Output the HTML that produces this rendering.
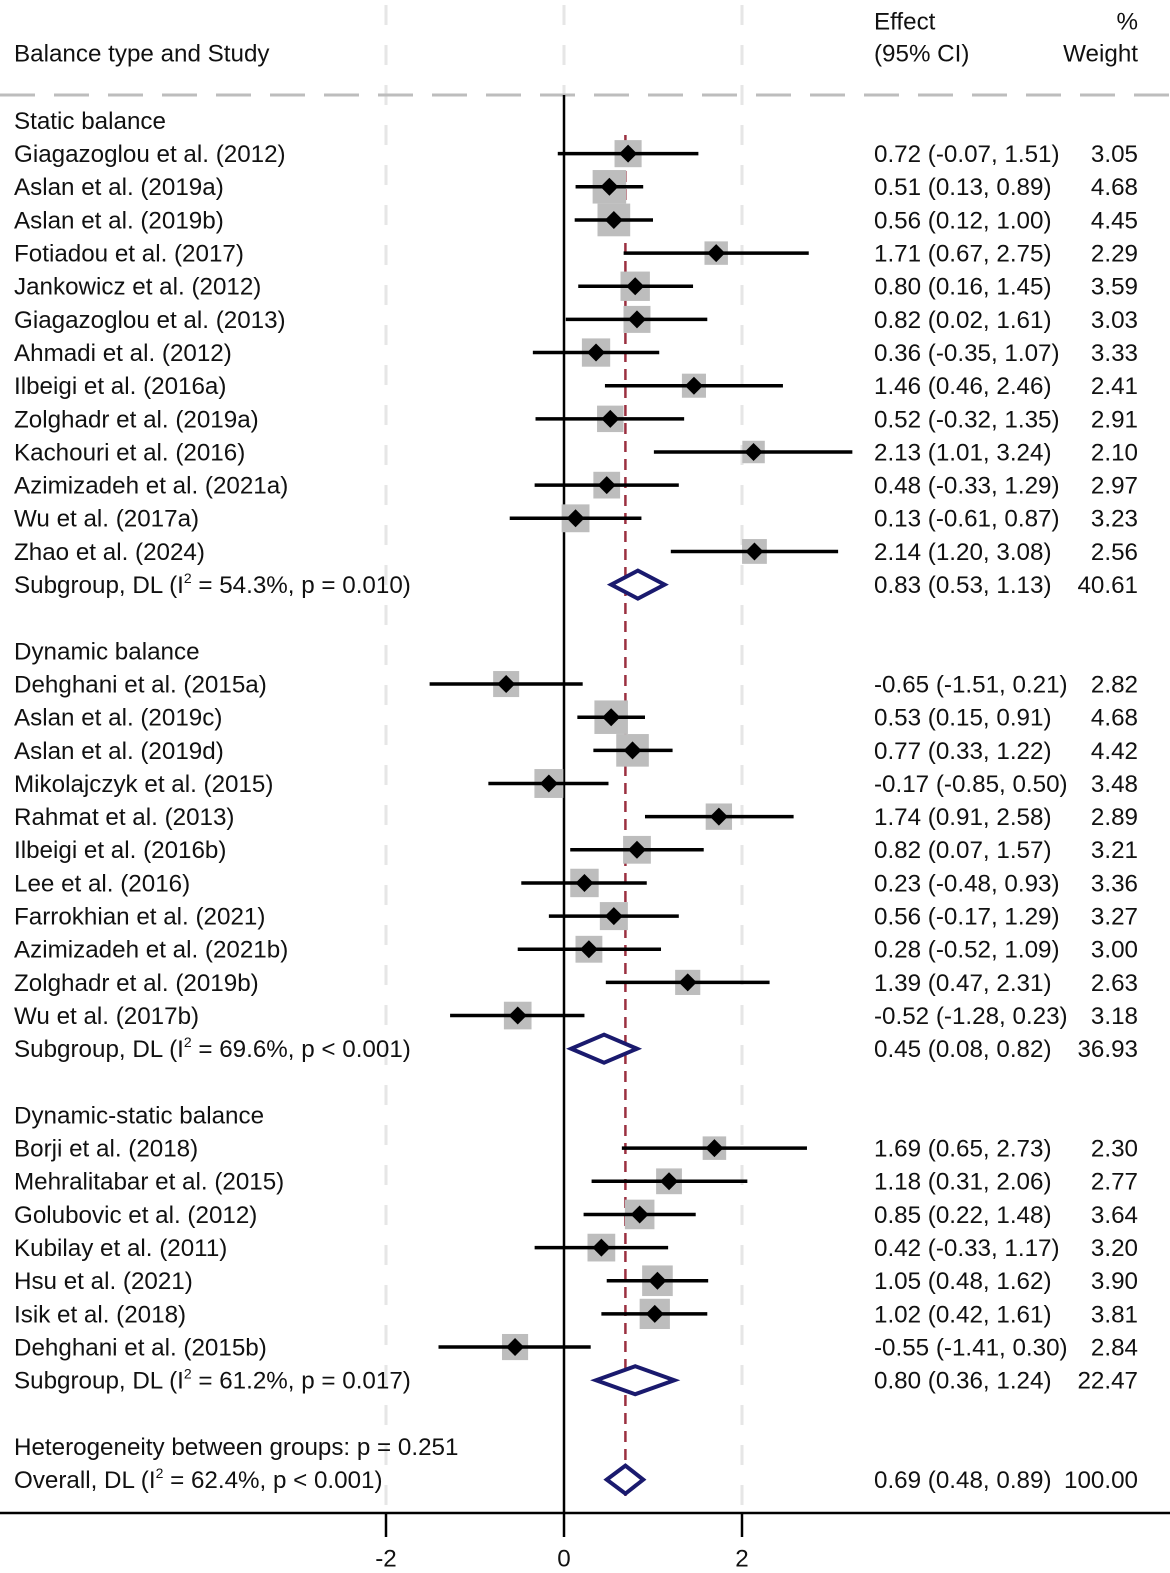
<!DOCTYPE html>
<html><head><meta charset="utf-8"><style>
html,body{margin:0;padding:0;background:#fff}
svg{display:block}
text{font-family:"Liberation Sans",Arial,sans-serif;font-size:24.2px;fill:#111}
</style></head><body>
<svg id="plot" width="1170" height="1573" viewBox="0 0 1170 1573" xmlns="http://www.w3.org/2000/svg"></svg>
<script>
const studies = ["Giagazoglou et al. (2012)","Aslan et al. (2019a)","Aslan et al. (2019b)","Fotiadou et al. (2017)","Jankowicz et al. (2012)","Giagazoglou et al. (2013)","Ahmadi et al. (2012)","Ilbeigi et al. (2016a)","Zolghadr et al. (2019a)","Kachouri et al. (2016)","Azimizadeh et al. (2021a)","Wu et al. (2017a)","Zhao et al. (2024)",
"Dehghani et al. (2015a)","Aslan et al. (2019c)","Aslan et al. (2019d)","Mikolajczyk et al. (2015)","Rahmat et al. (2013)","Ilbeigi et al. (2016b)","Lee et al. (2016)","Farrokhian et al. (2021)","Azimizadeh et al. (2021b)","Zolghadr et al. (2019b)","Wu et al. (2017b)",
"Borji et al. (2018)","Mehralitabar et al. (2015)","Golubovic et al. (2012)","Kubilay et al. (2011)","Hsu et al. (2021)","Isik et al. (2018)","Dehghani et al. (2015b)"];
const est = [0.72,0.51,0.56,1.71,0.80,0.82,0.36,1.46,0.52,2.13,0.48,0.13,2.14, -0.65,0.53,0.77,-0.17,1.74,0.82,0.23,0.56,0.28,1.39,-0.52, 1.69,1.18,0.85,0.42,1.05,1.02,-0.55];
const lo = [-0.07,0.13,0.12,0.67,0.16,0.02,-0.35,0.46,-0.32,1.01,-0.33,-0.61,1.20, -1.51,0.15,0.33,-0.85,0.91,0.07,-0.48,-0.17,-0.52,0.47,-1.28, 0.65,0.31,0.22,-0.33,0.48,0.42,-1.41];
const hi = [1.51,0.89,1.00,2.75,1.45,1.61,1.07,2.46,1.35,3.24,1.29,0.87,3.08, 0.21,0.91,1.22,0.50,2.58,1.57,0.93,1.29,1.09,2.31,0.23, 2.73,2.06,1.48,1.17,1.62,1.61,0.30];
const weights = [3.05,4.68,4.45,2.29,3.59,3.03,3.33,2.41,2.91,2.10,2.97,3.23,2.56, 2.82,4.68,4.42,3.48,2.89,3.21,3.36,3.27,3.00,2.63,3.18, 2.30,2.77,3.64,3.20,3.90,3.81,2.84];
const groupNames = ["Static balance","Dynamic balance","Dynamic-static balance"];
const groupSizes = [13,11,7];
const subEst = [0.83,0.45,0.80];
const subLo = [0.53,0.08,0.36];
const subHi = [1.13,0.82,1.24];
const subW = ["40.61","36.93","22.47"];
const subI2 = ["54.3%","69.6%","61.2%"];
const subP = ["p = 0.010","p < 0.001","p = 0.017"];
const overall = [0.69,0.48,0.89];
const xTicks = [-2,0,2];

const NS="http://www.w3.org/2000/svg";
const svg=document.getElementById('plot');
const X=v=>564+v*89;
const Y=r=>120.5+r*33.15;
function el(tag,attrs,parent){const e=document.createElementNS(NS,tag);for(const k in attrs)e.setAttribute(k,attrs[k]);(parent||svg).appendChild(e);return e;}
function txt(x,y,s,anchor){const t=el('text',{x:x,y:y+8.4,'text-anchor':anchor||'start'});t.textContent=s;return t;}
const f2=v=>v.toFixed(2);

xTicks.forEach(v=>{if(v!==0){const g=el('line',{x1:X(v),x2:X(v),y1:5,y2:1510,stroke:'#e6e6e6','stroke-width':3,'stroke-dasharray':'20 20'});

}});
const g0=el('line',{x1:X(0),x2:X(0),y1:5,y2:95,stroke:'#e6e6e6','stroke-width':3,'stroke-dasharray':'20 20'});



let h=txt(14,53,"Balance type and Study");
h=txt(874,21,"Effect");
h=txt(874,53,"(95% CI)");
h=txt(1138,21,"%","end");
h=txt(1138,53,"Weight","end");
const hl=el('line',{x1:0,x2:1170,y1:95,y2:95,stroke:'#bdbdbd','stroke-width':3,'stroke-dasharray':'35 19'});



const nl=el('line',{x1:X(0),x2:X(0),y1:95,y2:1513,stroke:'#000','stroke-width':2.5});


const ol=el('line',{x1:X(overall[0]),x2:X(overall[0]),y1:135,y2:1500,stroke:'#9b3040','stroke-width':2.5,'stroke-dasharray':'11 7'});



function diamond(e,l,u,y,name){const d=el('polygon',{points:`${X(l)},${y} ${X(e)},${y-14} ${X(u)},${y} ${X(e)},${y+14}`,fill:'#fff',stroke:'#1a1a6e','stroke-width':4,'stroke-linejoin':'miter'});

}

let row=0, idx=0;
groupNames.forEach((gn,gi)=>{
  const t=txt(14,Y(row),gn);
  
  
  row++;
  for(let k=0;k<groupSizes[gi];k++,idx++,row++){
    const y=Y(row);
    const lab=txt(14,y,studies[idx]);
    
    
    const s=15.5*Math.sqrt(weights[idx]);
    const sq=el('rect',{x:X(est[idx])-s/2,y:y-s/2,width:s,height:s,fill:'#bdbdbd'});
    
    
    const ci=el('line',{x1:X(lo[idx]),x2:X(hi[idx]),y1:y,y2:y,stroke:'#000','stroke-width':3.5});
    
    
    const p=el('polygon',{points:`${X(est[idx])-9},${y} ${X(est[idx])},${y-9} ${X(est[idx])+9},${y} ${X(est[idx])},${y+9}`,fill:'#000'});
    
    
    const et=txt(874,y,`${f2(est[idx])} (${f2(lo[idx])}, ${f2(hi[idx])})`);
    
    
    const wt=txt(1138,y,f2(weights[idx]),'end');
    
    
  }
  const y=Y(row);
  const st=el('text',{x:14,y:y+8.4});
  st.innerHTML=`Subgroup, DL (I<tspan dy="-10" font-size="14">2</tspan><tspan dy="10"> = ${subI2[gi]}, ${subP[gi]})</tspan>`;
  
  
  diamond(subEst[gi],subLo[gi],subHi[gi],y,'subgroup-diamond');
  const se=txt(874,y,`${f2(subEst[gi])} (${f2(subLo[gi])}, ${f2(subHi[gi])})`);
  
  
  const sw=txt(1138,y,subW[gi],'end');
  
  
  row+=2;
});
let y=Y(row);
const ht=txt(14,y,"Heterogeneity between groups: p = 0.251");


row++; y=Y(row);
const ot=el('text',{x:14,y:y+8.4});
ot.innerHTML='Overall, DL (I<tspan dy="-10" font-size="14">2</tspan><tspan dy="10"> = 62.4%, p &lt; 0.001)</tspan>';


diamond(overall[0],overall[1],overall[2],y,'overall-diamond');
const oe=txt(874,y,`${f2(overall[0])} (${f2(overall[1])}, ${f2(overall[2])})`);


const ow=txt(1138,y,"100.00",'end');



const ax=el('line',{x1:0,x2:1170,y1:1513,y2:1513,stroke:'#000','stroke-width':2.5});


xTicks.forEach(v=>{
  const tk=el('line',{x1:X(v),x2:X(v),y1:1513,y2:1537,stroke:'#000','stroke-width':2.5});
  
  
  const tl=txt(X(v),1558,String(v),'middle');
  
  
});
</script>
</body></html>
